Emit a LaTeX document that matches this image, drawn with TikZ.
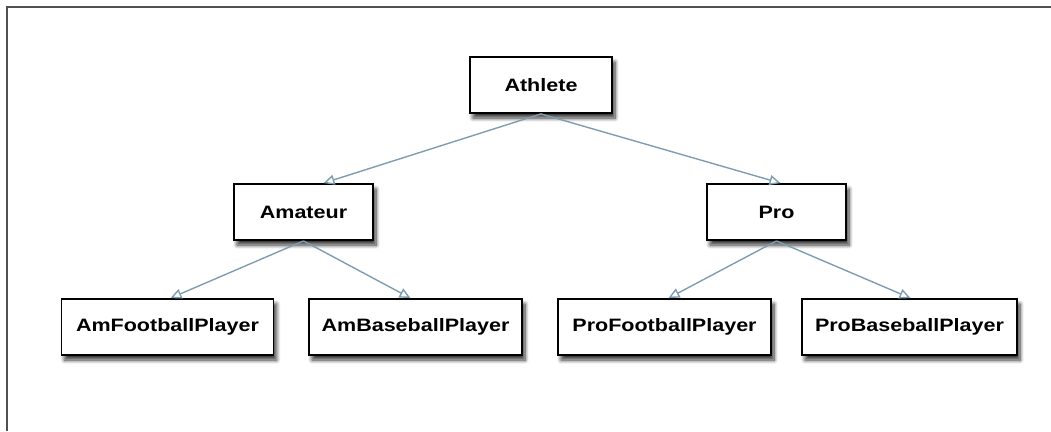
\documentclass[tikz,border=0pt]{standalone}
\usepackage{fontspec}
\setmainfont{Liberation Sans}
\usetikzlibrary{shadows.blur,arrows.meta}
\definecolor{edgec}{HTML}{7F9DB0}
\definecolor{framec}{HTML}{505050}
\tikzset{
  cls/.style={draw=black, line width=1.8bp, fill=white, minimum height=56bp, inner sep=0pt,
    font=\fontsize{18}{20}\selectfont\bfseries,
    blur shadow={shadow xshift=3bp, shadow yshift=-5bp, shadow blur steps=8, shadow blur radius=4bp, shadow opacity=80}},
  gen/.style={draw=edgec, line width=1.4bp, -{Triangle[open, length=11bp, width=10bp]}},
}
\newcommand{\lbl}[1]{\scalebox{1.2}[1]{#1}}
\begin{document}
\begin{tikzpicture}[x=1bp, y=-1bp]
\useasboundingbox (0,0) rectangle (1051,431);
\draw[framec, line width=2.2bp] (7,431) -- (7,7) -- (1051,7);
\node[cls, minimum width=142bp] (athlete) at (541,85) {\lbl{Athlete}};
\node[cls, minimum width=139bp] (amateur) at (303.5,212) {\lbl{Amateur}};
\node[cls, minimum width=139bp] (pro) at (776.5,212) {\lbl{Pro}};
\node[cls, minimum width=212bp] (amf) at (167.5,327) {\lbl{AmFootballPlayer}};
\node[cls, minimum width=213bp] (amb) at (415.5,327) {\lbl{AmBaseballPlayer}};
\node[cls, minimum width=213bp] (prf) at (664.5,327) {\lbl{ProFootballPlayer}};
\node[cls, minimum width=215bp] (prb) at (909.5,327) {\lbl{ProBaseballPlayer}};
\draw[gen] (athlete.south) -- ([xshift=20bp]amateur.north);
\draw[gen] (athlete.south) -- ([xshift=4bp]pro.north);
\draw[gen] (amateur.south) -- ([xshift=3bp]amf.north);
\draw[gen] (amateur.south) -- ([xshift=-5bp]amb.north);
\draw[gen] (pro.south) -- ([xshift=4bp]prf.north);
\draw[gen] (pro.south) -- ([xshift=1bp]prb.north);
\end{tikzpicture}
\end{document}
